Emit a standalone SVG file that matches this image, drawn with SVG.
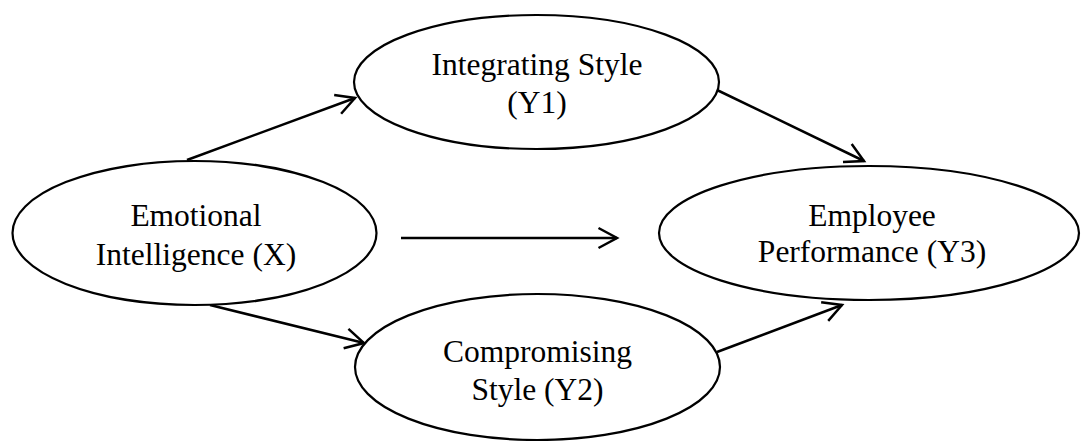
<svg xmlns="http://www.w3.org/2000/svg" width="1081" height="441" viewBox="0 0 1081 441">
  <style>
    .node ellipse { fill: #fff; stroke: #000; stroke-width: 2.2; }
    .node text { font-family: "Liberation Serif", "Times New Roman", serif; font-size: 31.5px; fill: #000; text-anchor: middle; }
    .edges line { stroke: #000; stroke-width: 2.5; marker-end: url(#open); }
  </style>
  <defs>
    <!-- open chevron arrowhead, drawn in user units so every edge gets the same size -->
    <marker id="open" markerUnits="userSpaceOnUse" markerWidth="28" markerHeight="28" viewBox="-24 -14 28 28" refX="0" refY="0" orient="auto">
      <path d="M-18.5,-10 L0,0 L-18.5,10" fill="none" stroke="#000" stroke-width="2.5" stroke-linejoin="miter"/>
    </marker>
  </defs>

  <rect width="1081" height="441" fill="#fff"/>

  <g class="edges" id="connectors">
    <line x1="187" y1="160" x2="355" y2="98"/>
    <line x1="717" y1="90" x2="864" y2="161"/>
    <line x1="401" y1="238" x2="617" y2="238"/>
    <line x1="210" y1="305" x2="364" y2="343"/>
    <line x1="717" y1="352" x2="842" y2="305"/>
  </g>

  <g class="node" id="node-x">
    <ellipse cx="194.5" cy="233" rx="182" ry="72"/>
    <text x="196" y="226">Emotional</text>
    <text x="196" y="265">Intelligence (X)</text>
  </g>

  <g class="node" id="node-y1">
    <ellipse cx="536.5" cy="82" rx="182.5" ry="67"/>
    <text x="537" y="75">Integrating Style</text>
    <text x="537" y="113">(Y1)</text>
  </g>

  <g class="node" id="node-y2">
    <ellipse cx="537.5" cy="367" rx="182.5" ry="73"/>
    <text x="537.5" y="362">Compromising</text>
    <text x="537.5" y="400">Style (Y2)</text>
  </g>

  <g class="node" id="node-y3">
    <ellipse cx="869" cy="233" rx="210" ry="67"/>
    <text x="872" y="226">Employee</text>
    <text x="872" y="262">Performance (Y3)</text>
  </g>
</svg>
